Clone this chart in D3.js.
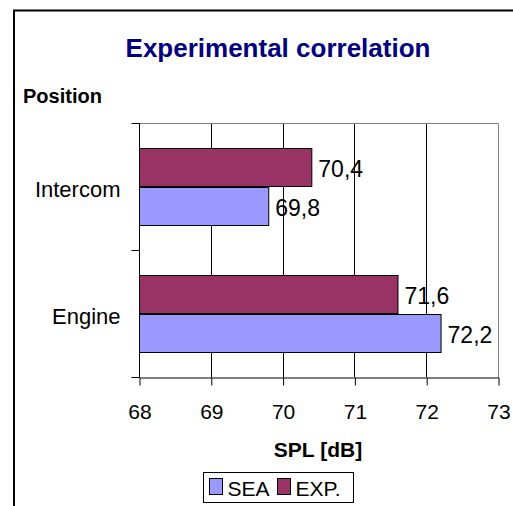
<!DOCTYPE html>
<html>
<head>
<meta charset="utf-8">
<script src="https://cdn.jsdelivr.net/npm/d3@7.9.0/dist/d3.min.js"></script>
<style>
  body { margin: 0; background: #fff; }
  svg text { font-family: Arial, "Liberation Sans", sans-serif; }
</style>
</head>
<body>
<svg width="513" height="506"></svg>
<script>
// data
const positions = ['Engine', 'Intercom'];
const seriesNames = ['SEA', 'EXP.'];
const seaValues = [72.2, 69.8];
const expValues = [71.6, 70.4];
const xTicks = [68, 69, 70, 71, 72, 73];
const colors = ['#9999FF', '#993366'];

const svg = d3.select('svg');

// outer frame (cut off at right and bottom)
svg.append('rect')
  .attr('x', 14).attr('y', 10.5)
  .attr('width', 520).attr('height', 520)
  .attr('fill', 'none').attr('stroke', '#000').attr('stroke-width', 2);

const plot = { left: 139, right: 498, top: 123, bottom: 377 };

let x = d3.scaleLinear().domain([68, 73]).range([plot.left, plot.right]);
// first category at the bottom, like excel does
let y = d3.scaleBand().domain(positions).range([plot.bottom, plot.top]);
let inner = d3.scaleBand().domain([1, 0]).range([0, y.bandwidth()]).paddingOuter(0.65).paddingInner(0);

// gridlines
svg.append('g')
  .selectAll('line')
  .data(xTicks.slice(1, -1))
  .join('line')
  .attr('x1', d => Math.round(x(d)) + 0.5).attr('x2', d => Math.round(x(d)) + 0.5)
  .attr('y1', plot.top).attr('y2', plot.bottom)
  .attr('stroke', '#000');

// gray top/right border of the plot area
svg.append('path')
  .attr('d', `M${plot.left},${plot.top + 0.5}H${plot.right + 0.5}V${plot.bottom}`)
  .attr('fill', 'none').attr('stroke', '#808080');

// bars
let rows = positions.map((p, i) => [
  { pos: p, s: 0, value: seaValues[i] },
  { pos: p, s: 1, value: expValues[i] }
]).flat();

svg.append('g')
  .selectAll('rect')
  .data(rows)
  .join('rect')
  .attr('x', plot.left + 0.5)
  .attr('y', d => Math.round(y(d.pos) + inner(d.s)) + 0.5)
  .attr('width', d => x(d.value) - plot.left)
  .attr('height', Math.round(inner.bandwidth()))
  .attr('fill', d => colors[d.s])
  .attr('stroke', '#000');

svg.append('g')
  .selectAll('text')
  .data(rows)
  .join('text')
  .attr('x', d => x(d.value) + 7)
  .attr('y', d => y(d.pos) + inner(d.s) + inner.bandwidth() / 2 + 2)
  .attr('dy', '0.35em')
  .attr('font-size', 23)
  .text(d => d3.format('.1f')(d.value).replace('.', ','));

// axes
let xAxis = d3.axisBottom(x).tickValues(xTicks).tickFormat(d3.format('d')).tickSize(8).tickSizeOuter(0);
let gx = svg.append('g').attr('transform', `translate(0.5,${plot.bottom + 0.5})`).call(xAxis);
gx.select('.domain').attr('stroke', '#000');
gx.selectAll('.tick line').attr('stroke', '#000');
gx.selectAll('text')
  .attr('y', 34).attr('dy', '0.35em')
  .attr('font-size', 21).attr('fill', '#000')
  .attr('font-family', 'Arial, "Liberation Sans", sans-serif');

let yAxis = svg.append('g').attr('transform', `translate(${plot.left + 0.5},0)`);
yAxis.append('line')
  .attr('y1', plot.top).attr('y2', plot.bottom + 0.5)
  .attr('stroke', '#000');
yAxis.selectAll('.tick')
  .data([plot.top, (plot.top + plot.bottom) / 2, plot.bottom])
  .join('line')
  .attr('x1', -8).attr('x2', 0)
  .attr('y1', d => Math.round(d) + 0.5).attr('y2', d => Math.round(d) + 0.5)
  .attr('stroke', '#000');
yAxis.selectAll('text')
  .data(positions)
  .join('text')
  .attr('x', -19)
  .attr('y', d => y(d) + y.bandwidth() / 2 + 3)
  .attr('dy', '0.35em')
  .attr('text-anchor', 'end')
  .attr('font-size', 22)
  .text(d => d);

// titles
svg.append('text')
  .attr('x', 278).attr('y', 48).attr('dy', '0.35em')
  .attr('text-anchor', 'middle')
  .attr('font-size', 26).attr('font-weight', 'bold').attr('fill', '#000080')
  .text('Experimental correlation');

svg.append('text')
  .attr('x', 23).attr('y', 96).attr('dy', '0.35em')
  .attr('font-size', 20).attr('font-weight', 'bold')
  .text('Position');

svg.append('text')
  .attr('x', 318).attr('y', 450).attr('dy', '0.35em')
  .attr('text-anchor', 'middle')
  .attr('font-size', 21).attr('font-weight', 'bold')
  .text('SPL [dB]');

// legend
let legend = svg.append('g').attr('transform', 'translate(203.5,472.5)');
legend.append('rect')
  .attr('width', 150).attr('height', 30)
  .attr('fill', '#fff').attr('stroke', '#000');
let lx = [6, 74];
seriesNames.forEach((name, i) => {
  legend.append('rect')
    .attr('x', lx[i]).attr('y', 6)
    .attr('width', 13).attr('height', 16)
    .attr('fill', colors[i]).attr('stroke', '#000');
  legend.append('text')
    .attr('x', lx[i] + 18).attr('y', 16).attr('dy', '0.35em')
    .attr('font-size', 21)
    .text(name);
});
</script>
</body>
</html>
